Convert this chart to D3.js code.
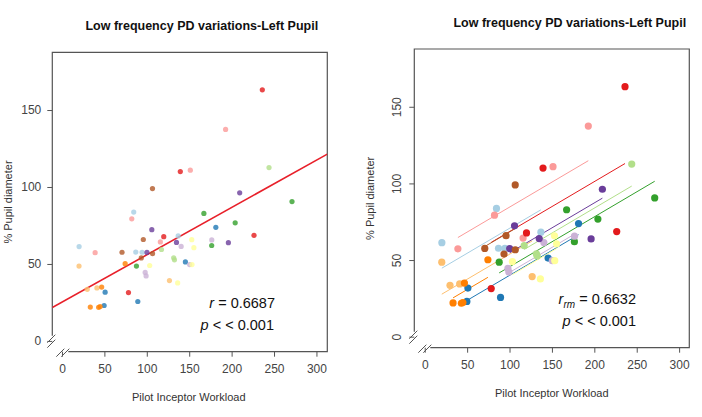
<!doctype html>
<html>
<head>
  <script src="https://cdnjs.cloudflare.com/ajax/libs/d3/7.8.5/d3.min.js"></script>
  <style>
    body { margin: 0; background: #fff; }
    svg text { font-family: "Liberation Sans", Arial, sans-serif; }
  </style>
</head>
<body>
  <svg id="chart" width="702" height="417"></svg>
  <script>
    // one colour per subject (Paired palette order)
    var subjects = ["S1", "S2", "S3", "S4", "S5", "S6", "S7", "S8", "S9", "S10", "S11", "S12"];
    var subjectColors = ["#A6CEE3", "#1F78B4", "#B2DF8A", "#33A02C", "#FB9A99", "#E31A1C",
                         "#FDBF6F", "#FF7F00", "#CAB2D6", "#6A3D9A", "#FFFF99", "#B15928"];
    // [workload, % pupil diameter] per subject
    var s1 = [[20.2, 61.3], [84.6, 83.7], [87, 57.7], [94.5, 57.6], [137, 68.2]];
    var s2 = [[50.9, 31.7], [49.7, 23], [89.4, 25.6], [181.4, 73.8], [145.5, 51.3]];
    var s3 = [[244.1, 112.6], [117.3, 59.4], [131.7, 54], [132.6, 52.7]];
    var s4 = [[87.8, 48.6], [167.3, 82.8], [204.2, 76.7], [176.5, 62], [271.2, 90.5]];
    var s5 = [[39.1, 57.3], [82.3, 79.3], [116, 64.3], [151.3, 110.9], [192.9, 137.4]];
    var s6 = [[236.2, 163.1], [139.5, 110], [120, 67.7], [78.4, 31.4], [226.4, 68.6]];
    var s7 = [[20.1, 48.6], [29.8, 33.5], [41.2, 34.4], [126.7, 39.2]];
    var s8 = [[74.5, 50.2], [33.4, 22], [43.2, 21.8], [45, 22.3], [46.8, 35]];
    var s9 = [[98.1, 44.5], [99.2, 42.2], [140.5, 61.4], [176.6, 65.6], [150.5, 49.6]];
    var s10 = [[105.9, 72.3], [100.2, 57.5], [135, 64], [196.2, 63.8], [209.5, 96.2]];
    var s11 = [[103.4, 49], [153, 65.8], [155.5, 60.6], [136.4, 37.7], [153.3, 49.6]];
    var s12 = [[106.7, 99], [95.9, 65.9], [70.8, 57.6], [106.8, 56.7], [93.5, 53.9]];
    var groups = [s1, s2, s3, s4, s5, s6, s7, s8, s9, s10, s11, s12];

    var xTicks = [0, 50, 100, 150, 200, 250, 300];
    var yTicks = [0, 50, 100, 150];
    var title = "Low frequency PD variations-Left Pupil";

    var points = [];
    groups.forEach((g, i) => g.forEach(p => points.push({ s: i, x: p[0], y: p[1] })));

    var svg = d3.select("#chart");

    // simple OLS across all points
    function ols(pts) {
      var mx = d3.mean(pts, d => d.x), my = d3.mean(pts, d => d.y);
      var sxy = d3.sum(pts, d => (d.x - mx) * (d.y - my));
      var sxx = d3.sum(pts, d => (d.x - mx) * (d.x - mx));
      var b = sxy / sxx;
      return { b: b, a: my - b * mx };
    }

    // repeated measures common slope
    function rmSlope() {
      var sxy = 0, sxx = 0;
      groups.forEach(g => {
        var mx = d3.mean(g, p => p[0]), my = d3.mean(g, p => p[1]);
        g.forEach(p => { sxy += (p[0] - mx) * (p[1] - my); sxx += (p[0] - mx) * (p[0] - mx); });
      });
      return sxy / sxx;
    }

    function panel(opt) {
      var x = d3.scaleLinear().domain(opt.xd).range([opt.l, opt.r]);
      var y = d3.scaleLinear().domain(opt.yd).range([opt.b, opt.t]);
      var g = svg.append("g");

      g.append("clipPath").attr("id", opt.id + "clip")
        .append("rect").attr("x", opt.l).attr("y", opt.t)
        .attr("width", opt.r - opt.l).attr("height", opt.b - opt.t);

      // frame with the broken corner
      var frame = "#555";
      g.append("path")
        .attr("d", `M${opt.l},${opt.b - 16}V${opt.t}H${opt.r}V${opt.b}H${opt.l + 16}`)
        .attr("fill", "none").attr("stroke", frame).attr("stroke-width", 1.2);
      [0, 5].forEach(o => {
        g.append("line").attr("x1", opt.l - 5).attr("x2", opt.l + 3)
          .attr("y1", opt.b - 9 + o).attr("y2", opt.b - 17 + o)
          .attr("stroke", frame).attr("stroke-width", 1);
        g.append("line").attr("x1", opt.l + 4 + o).attr("x2", opt.l + 12 + o)
          .attr("y1", opt.b + 5).attr("y2", opt.b - 3)
          .attr("stroke", frame).attr("stroke-width", 1);
      });

      var xa = g.append("g").attr("transform", `translate(0,${opt.b})`)
        .call(d3.axisBottom(x).tickValues(xTicks).tickSize(5).tickPadding(8));
      var ya = g.append("g").attr("transform", `translate(${opt.l},0)`)
        .call(d3.axisLeft(y).tickValues(yTicks).tickSize(5).tickPadding(6));
      [xa, ya].forEach(a => {
        a.select(".domain").remove();
        a.selectAll("line").attr("stroke", frame);
        a.selectAll("text").attr("fill", "#444").style("font-size", "12px");
      });
      if (opt.rotY) {
        // R style: labels parallel to the axis
        ya.selectAll("text")
          .attr("x", 0).attr("dy", 0)
          .attr("text-anchor", "middle")
          .attr("transform", "translate(-13,0) rotate(-90)");
      }

      g.append("text").attr("x", (opt.l + opt.r) / 2 + opt.titleDx).attr("y", opt.t - 22)
        .attr("text-anchor", "middle").style("font-size", "12.5px").style("font-weight", "bold")
        .attr("fill", "#111").text(title);
      g.append("text").attr("x", (opt.l + opt.r) / 2 + opt.xlabDx).attr("y", opt.b + 49)
        .attr("text-anchor", "middle").style("font-size", "11px").attr("fill", "#333")
        .text("Pilot Inceptor Workload");
      g.append("text")
        .attr("transform", `translate(${opt.ylabX},${(opt.t + opt.b) / 2}) rotate(-90)`)
        .attr("text-anchor", "middle").style("font-size", "11px").attr("fill", "#333")
        .text("% Pupil diameter");

      return { g: g, x: x, y: y };
    }

    // left panel
    var L = panel({ id: "L", l: 52.3, r: 327.3, t: 52.3, b: 351.7, xd: [-11.4, 312.8], yd: [-7, 187.5],
                    rotY: false, titleDx: 12, xlabDx: -1, ylabX: 12 });
    var fit = ols(points);
    L.g.append("line").attr("clip-path", "url(#Lclip)")
      .attr("x1", L.x(-11.4)).attr("x2", L.x(312.8))
      .attr("y1", L.y(fit.a + fit.b * -11.4)).attr("y2", L.y(fit.a + fit.b * 312.8))
      .attr("stroke", "#E8202A").attr("stroke-width", 1.6);
    L.g.selectAll("circle.pt").data(points).enter().append("circle")
      .attr("cx", d => L.x(d.x)).attr("cy", d => L.y(d.y)).attr("r", 2.6)
      .attr("fill", d => subjectColors[d.s]).attr("fill-opacity", 0.8);
    var lt = L.g.append("text").attr("x", 275).attr("y", 308).attr("text-anchor", "end")
      .style("font-size", "14.5px").attr("fill", "#111");
    lt.append("tspan").style("font-style", "italic").text("r");
    lt.append("tspan").text(" = 0.6687");
    var lp = L.g.append("text").attr("x", 274).attr("y", 330).attr("text-anchor", "end")
      .style("font-size", "14.5px").attr("fill", "#111");
    lp.append("tspan").style("font-style", "italic").text("p");
    lp.append("tspan").text(" < < 0.001");

    // right panel
    var R = panel({ id: "R", l: 414.3, r: 689.3, t: 49, b: 347.7, xd: [-12.3, 312], yd: [-7.2, 187.7],
                    rotY: true, titleDx: 18, xlabDx: 0, ylabX: 374 });
    var slope = rmSlope();
    var lines = groups.map((g, i) => {
      var mx = d3.mean(g, p => p[0]), my = d3.mean(g, p => p[1]);
      var x0 = d3.min(g, p => p[0]), x1 = d3.max(g, p => p[0]);
      return { s: i, x0: x0, x1: x1, y0: my + slope * (x0 - mx), y1: my + slope * (x1 - mx) };
    });
    R.g.selectAll("line.fit").data(lines).enter().append("line")
      .attr("x1", d => R.x(d.x0)).attr("x2", d => R.x(d.x1))
      .attr("y1", d => R.y(d.y0)).attr("y2", d => R.y(d.y1))
      .attr("stroke", d => subjectColors[d.s]).attr("stroke-width", 1);
    R.g.selectAll("circle.pt").data(points).enter().append("circle")
      .attr("cx", d => R.x(d.x)).attr("cy", d => R.y(d.y)).attr("r", 3.6)
      .attr("fill", d => subjectColors[d.s]);
    var rt = R.g.append("text").attr("x", 636).attr("y", 304).attr("text-anchor", "end")
      .style("font-size", "14.5px").attr("fill", "#111");
    rt.append("tspan").style("font-style", "italic").text("r");
    rt.append("tspan").style("font-style", "italic").style("font-size", "10px").attr("dy", 4).text("rm");
    rt.append("tspan").attr("dy", -4).text(" = 0.6632");
    var rp = R.g.append("text").attr("x", 636).attr("y", 326).attr("text-anchor", "end")
      .style("font-size", "14.5px").attr("fill", "#111");
    rp.append("tspan").style("font-style", "italic").text("p");
    rp.append("tspan").text(" < < 0.001");
  </script>
</body>
</html>
